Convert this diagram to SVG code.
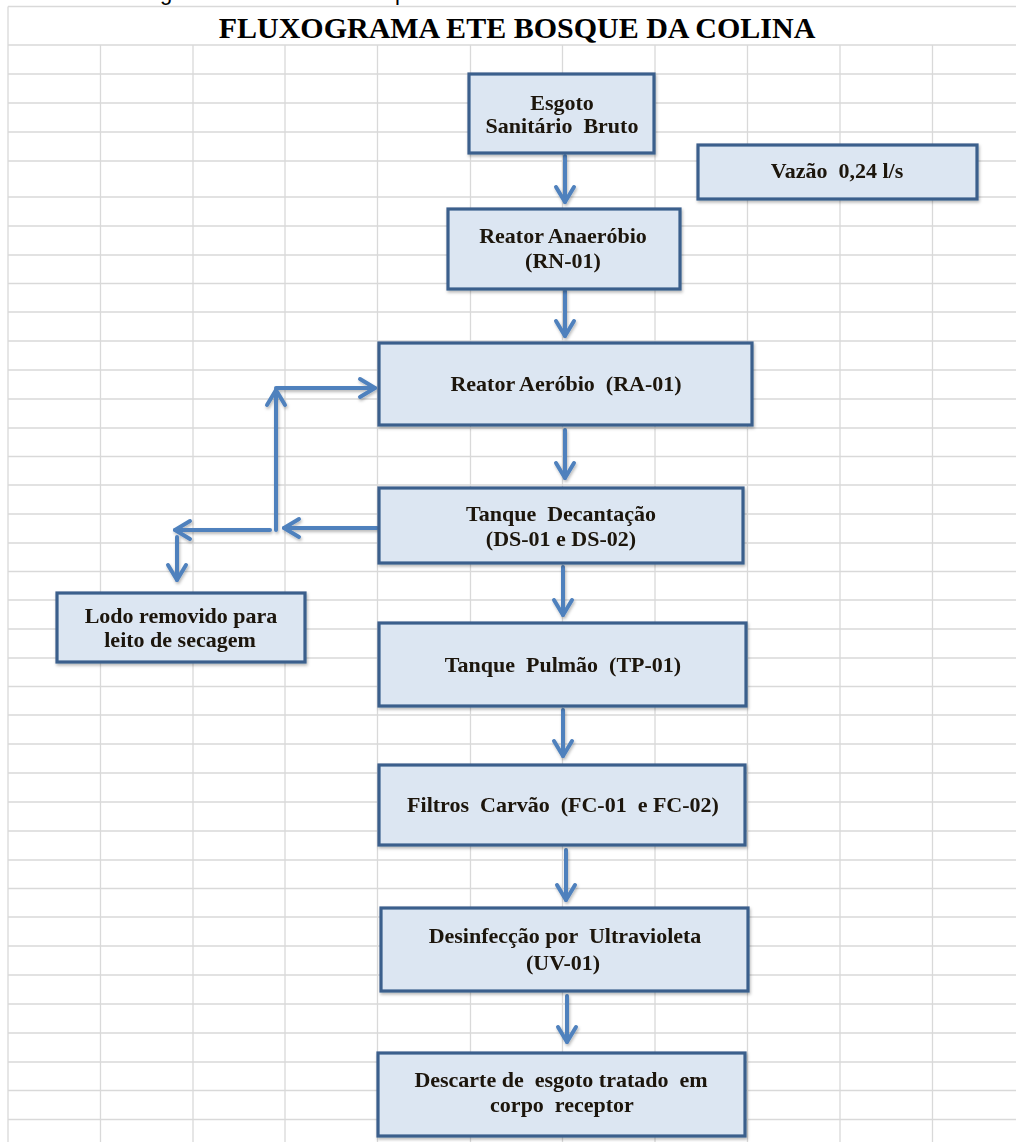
<svg xmlns="http://www.w3.org/2000/svg" width="1016" height="1142" viewBox="0 0 1016 1142">
  <defs>
    <style>
      .grid line { stroke: #D9D9D9; stroke-width: 1.3; }
      .box rect { fill: #DCE6F2; stroke: #3A5F8C; stroke-width: 3.2; }
      .box text { font-family: "Liberation Serif", "Times New Roman", serif; font-weight: bold; font-size: 22px; fill: #1a1208; text-anchor: middle; white-space: pre; }
      .title { font-family: "Liberation Serif", "Times New Roman", serif; font-weight: bold; font-size: 30px; fill: #000; text-anchor: middle; }
      .cap { font-family: "Liberation Sans", Arial, sans-serif; font-size: 22px; fill: #000; }
      .conn line { stroke: #4F81BD; stroke-width: 4; stroke-linecap: round; fill: none; }
    </style>
    <marker id="arrow" markerUnits="userSpaceOnUse" viewBox="-20 -20 40 40" markerWidth="40" markerHeight="40" refX="0" refY="0" orient="auto" overflow="visible">
      <path d="M-15,-9 L0,0 L-15,9" fill="none" stroke="#4F81BD" stroke-width="4" stroke-linecap="round" stroke-linejoin="round"/>
    </marker>
    <filter id="shadow" x="-10%" y="-10%" width="120%" height="130%">
      <feDropShadow dx="1" dy="2" stdDeviation="1.5" flood-color="#000" flood-opacity="0.28"/>
    </filter>
  </defs>

  <rect width="1016" height="1142" fill="#FFFFFF"/>

  <!-- caption line above the sheet, cut by the page edge -->
  <text class="cap" x="160" y="0">g</text>
  <text class="cap" x="395" y="0">p</text>

  <!-- spreadsheet grid -->
  <g class="grid">
    <line x1="8" y1="6.5" x2="1016" y2="6.5"/>
    <line x1="8" y1="6.5" x2="8" y2="1142"/>
    <line x1="8" y1="45" x2="1016" y2="45"/>
    <line x1="8" y1="74" x2="1016" y2="74"/>
    <line x1="8" y1="103" x2="1016" y2="103"/>
    <line x1="8" y1="132" x2="1016" y2="132"/>
    <line x1="8" y1="161" x2="1016" y2="161"/>
    <line x1="8" y1="197" x2="1016" y2="197"/>
    <line x1="8" y1="226" x2="1016" y2="226"/>
    <line x1="8" y1="255" x2="1016" y2="255"/>
    <line x1="8" y1="283.5" x2="1016" y2="283.5"/>
    <line x1="8" y1="312" x2="1016" y2="312"/>
    <line x1="8" y1="341" x2="1016" y2="341"/>
    <line x1="8" y1="370" x2="1016" y2="370"/>
    <line x1="8" y1="399" x2="1016" y2="399"/>
    <line x1="8" y1="428" x2="1016" y2="428"/>
    <line x1="8" y1="456.5" x2="1016" y2="456.5"/>
    <line x1="8" y1="485" x2="1016" y2="485"/>
    <line x1="8" y1="514" x2="1016" y2="514"/>
    <line x1="8" y1="543" x2="1016" y2="543"/>
    <line x1="8" y1="571.5" x2="1016" y2="571.5"/>
    <line x1="8" y1="600" x2="1016" y2="600"/>
    <line x1="8" y1="629" x2="1016" y2="629"/>
    <line x1="8" y1="658" x2="1016" y2="658"/>
    <line x1="8" y1="686.5" x2="1016" y2="686.5"/>
    <line x1="8" y1="715" x2="1016" y2="715"/>
    <line x1="8" y1="744" x2="1016" y2="744"/>
    <line x1="8" y1="773" x2="1016" y2="773"/>
    <line x1="8" y1="802" x2="1016" y2="802"/>
    <line x1="8" y1="831" x2="1016" y2="831"/>
    <line x1="8" y1="860" x2="1016" y2="860"/>
    <line x1="8" y1="888.5" x2="1016" y2="888.5"/>
    <line x1="8" y1="917" x2="1016" y2="917"/>
    <line x1="8" y1="946" x2="1016" y2="946"/>
    <line x1="8" y1="975" x2="1016" y2="975"/>
    <line x1="8" y1="1004" x2="1016" y2="1004"/>
    <line x1="8" y1="1033" x2="1016" y2="1033"/>
    <line x1="8" y1="1062" x2="1016" y2="1062"/>
    <line x1="8" y1="1090.5" x2="1016" y2="1090.5"/>
    <line x1="8" y1="1119.5" x2="1016" y2="1119.5"/>
    <line x1="100.5" y1="45" x2="100.5" y2="1142"/>
    <line x1="193" y1="45" x2="193" y2="1142"/>
    <line x1="285" y1="45" x2="285" y2="1142"/>
    <line x1="377.5" y1="45" x2="377.5" y2="1142"/>
    <line x1="470.5" y1="45" x2="470.5" y2="1142"/>
    <line x1="562.5" y1="45" x2="562.5" y2="1142"/>
    <line x1="655" y1="45" x2="655" y2="1142"/>
    <line x1="747.5" y1="45" x2="747.5" y2="1142"/>
    <line x1="840" y1="45" x2="840" y2="1142"/>
    <line x1="932.5" y1="45" x2="932.5" y2="1142"/>
  </g>

  <text class="title" x="517" y="38">FLUXOGRAMA ETE BOSQUE DA COLINA</text>

  <!-- flow connectors -->
  <g id="connectors" class="conn" filter="url(#shadow)">
    <line x1="565" y1="156" x2="565" y2="202" marker-end="url(#arrow)"/>
    <line x1="565" y1="291" x2="565" y2="336" marker-end="url(#arrow)"/>
    <line x1="565" y1="430" x2="565" y2="478" marker-end="url(#arrow)"/>
    <line x1="563" y1="567" x2="563" y2="615" marker-end="url(#arrow)"/>
    <line x1="563" y1="710" x2="563" y2="756" marker-end="url(#arrow)"/>
    <line x1="566" y1="850" x2="566" y2="900" marker-end="url(#arrow)"/>
    <line x1="567" y1="996" x2="567" y2="1042" marker-end="url(#arrow)"/>
    <!-- sludge return / removal -->
    <line x1="377" y1="528" x2="284" y2="528" marker-end="url(#arrow)"/>
    <line x1="276" y1="530" x2="276" y2="390" marker-end="url(#arrow)"/>
    <line x1="276" y1="388" x2="375" y2="388" marker-end="url(#arrow)"/>
    <line x1="270" y1="530" x2="175" y2="530" marker-end="url(#arrow)"/>
    <line x1="177" y1="537" x2="177" y2="580" marker-end="url(#arrow)"/>
  </g>

  <!-- process units -->
  <g id="esgoto-bruto" class="box" filter="url(#shadow)">
    <rect x="469" y="74" width="185" height="79"/>
    <text x="562" y="110">Esgoto</text>
    <text x="562" y="133">Sanitário  Bruto</text>
  </g>

  <g id="vazao" class="box" filter="url(#shadow)">
    <rect x="698" y="145" width="279" height="54"/>
    <text x="837" y="178">Vazão  0,24 l/s</text>
  </g>

  <g id="reator-anaerobio" class="box" filter="url(#shadow)">
    <rect x="448" y="209" width="232" height="80"/>
    <text x="563" y="243">Reator Anaeróbio</text>
    <text x="563" y="268">(RN-01)</text>
  </g>

  <g id="reator-aerobio" class="box" filter="url(#shadow)">
    <rect x="379" y="343" width="373" height="82"/>
    <text x="566" y="391">Reator Aeróbio  (RA-01)</text>
  </g>

  <g id="tanque-decantacao" class="box" filter="url(#shadow)">
    <rect x="379" y="488" width="364" height="75"/>
    <text x="561" y="521">Tanque  Decantação</text>
    <text x="561" y="546">(DS-01 e DS-02)</text>
  </g>

  <g id="lodo" class="box" filter="url(#shadow)">
    <rect x="57" y="593" width="248" height="69"/>
    <text x="181" y="623">Lodo removido para</text>
    <text x="180" y="647">leito de secagem</text>
  </g>

  <g id="tanque-pulmao" class="box" filter="url(#shadow)">
    <rect x="379" y="623" width="367" height="83"/>
    <text x="563" y="672">Tanque  Pulmão  (TP-01)</text>
  </g>

  <g id="filtros-carvao" class="box" filter="url(#shadow)">
    <rect x="379" y="765" width="366" height="80"/>
    <text x="563" y="812">Filtros  Carvão  (FC-01  e FC-02)</text>
  </g>

  <g id="uv" class="box" filter="url(#shadow)">
    <rect x="381" y="908" width="367" height="83"/>
    <text x="565" y="943">Desinfecção por  Ultravioleta</text>
    <text x="563" y="970">(UV-01)</text>
  </g>

  <g id="descarte" class="box" filter="url(#shadow)">
    <rect x="378" y="1053" width="367" height="83"/>
    <text x="561" y="1087">Descarte de  esgoto tratado  em</text>
    <text x="562" y="1112">corpo  receptor</text>
  </g>
</svg>
